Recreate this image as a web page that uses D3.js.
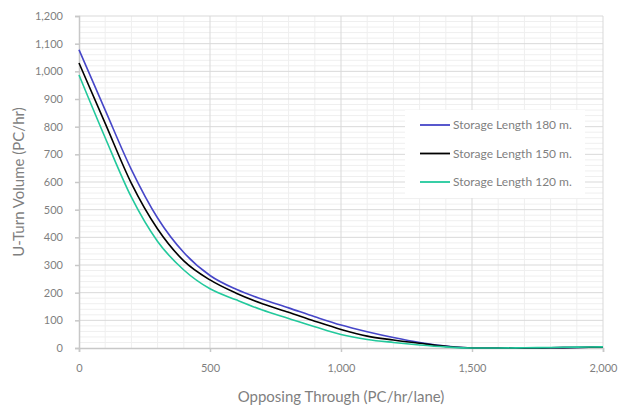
<!DOCTYPE html>
<html>
<head>
<meta charset="utf-8">
<script src="https://cdn.jsdelivr.net/npm/d3@7"></script>
<style>
  html, body { margin: 0; padding: 0; background: #fff; }
  svg { display: block; font-family: Lato, "Noto Sans", sans-serif; }
</style>
</head>
<body>
<svg id="chart" width="622" height="405"></svg>
<script>
// Opposing through flow (PC/hr/lane)
const opposing = [0, 100, 200, 300, 400, 500, 600, 700, 800, 900, 1000,
                  1100, 1200, 1300, 1400, 1500, 1600, 1700, 1800, 1900, 2000];

// U-turn capacity (PC/hr) per storage length
const storage180 = [1078, 860, 645, 470, 345, 262, 212, 176, 145, 113, 83,
                    59, 38, 20, 7, 0, 0, 0, 1, 2, 3];
const storage150 = [1030, 812, 595, 430, 315, 246, 198, 160, 129, 97, 67,
                    43, 29, 17, 6, 0, 0, 0, 1, 2, 3];
const storage120 = [987, 760, 545, 385, 282, 214, 174, 137, 107, 77, 49,
                    31, 20, 11, 4, 0, 0, 1, 2, 3, 4];

const seriesNames = ["Storage Length 180 m.", "Storage Length 150 m.", "Storage Length 120 m."];
const seriesColors = ["#4646c8", "#000000", "#22c99c"];
const seriesValues = [storage180, storage150, storage120];

const xTicks = [0, 500, 1000, 1500, 2000];
const yTicks = d3.range(0, 1201, 100);

const margin = { left: 79, right: 19, top: 16, bottom: 57 };
const W = 622, H = 405;
const svg = d3.select("#chart");

const x = d3.scaleLinear().domain([0, 2000]).range([margin.left, W - margin.right]);
const y = d3.scaleLinear().domain([0, 1200]).range([H - margin.bottom, margin.top]);

const grid = svg.append("g");
// minor horizontal grid every 20
grid.selectAll("line.hmin").data(d3.range(0, 1201, 20).filter(v => v % 100 !== 0))
  .join("line")
  .attr("x1", x(0)).attr("x2", x(2000))
  .attr("y1", d => y(d)).attr("y2", d => y(d))
  .attr("stroke", "#efefef").attr("stroke-width", 1);
// minor vertical grid every 100
grid.selectAll("line.vmin").data(d3.range(100, 2001, 100).filter(v => v % 500 !== 0))
  .join("line")
  .attr("x1", d => x(d)).attr("x2", d => x(d))
  .attr("y1", y(0)).attr("y2", y(1200))
  .attr("stroke", "#efefef").attr("stroke-width", 1);
// major horizontal grid every 100
grid.selectAll("line.hmaj").data(yTicks.filter(v => v > 0))
  .join("line")
  .attr("x1", x(0)).attr("x2", x(2000))
  .attr("y1", d => y(d)).attr("y2", d => y(d))
  .attr("stroke", "#d9d9d9").attr("stroke-width", 1);
// major vertical grid every 500
grid.selectAll("line.vmaj").data(xTicks.filter(v => v > 0))
  .join("line")
  .attr("x1", d => x(d)).attr("x2", d => x(d))
  .attr("y1", y(0)).attr("y2", y(1200))
  .attr("stroke", "#d9d9d9").attr("stroke-width", 1);

// axes
const fmt = d3.format(",");
const xAxis = svg.append("g")
  .attr("transform", `translate(0,${y(0)})`)
  .call(d3.axisBottom(x).tickValues(xTicks).tickFormat(fmt).tickSize(4).tickPadding(12));
const yAxis = svg.append("g")
  .attr("transform", `translate(${x(0)},0)`)
  .call(d3.axisLeft(y).tickValues(yTicks).tickFormat(fmt).tickSize(4).tickPadding(12));
[xAxis, yAxis].forEach(a => {
  a.select(".domain").attr("stroke", "#c8c8c8").attr("stroke-width", 1.5);
  a.selectAll(".tick line").attr("stroke", "#c8c8c8").attr("stroke-width", 1.5);
  a.selectAll(".tick text").attr("fill", "#7f7f7f")
    .style("font-size", "11px").style("font-family", "Lato, 'Noto Sans', sans-serif");
});

// curves
const line = d3.line()
  .x((d, i) => x(opposing[i]))
  .y(d => y(d))
  .curve(d3.curveMonotoneX);

svg.append("g").selectAll("path")
  .data(seriesValues)
  .join("path")
  .attr("d", d => line(d))
  .attr("fill", "none")
  .attr("stroke", (d, i) => seriesColors[i])
  .attr("stroke-width", 1.6);

// axis titles
svg.append("text")
  .attr("x", (x(0) + x(2000)) / 2).attr("y", 402)
  .attr("text-anchor", "middle")
  .attr("fill", "#7f7f7f").style("font-size", "15px")
  .text("Opposing Through (PC/hr/lane)");
svg.append("text")
  .attr("transform", `translate(24,${(y(0) + y(1200)) / 2}) rotate(-90)`)
  .attr("text-anchor", "middle")
  .attr("fill", "#7f7f7f").style("font-size", "15px")
  .text("U-Turn Volume (PC/hr)");

// legend
const legend = svg.append("g").attr("transform", "translate(405,110)");
legend.append("rect").attr("width", 180).attr("height", 88).attr("fill", "#fff");
const item = legend.selectAll("g").data(seriesNames).join("g")
  .attr("transform", (d, i) => `translate(0,${15 + i * 28.5})`);
item.append("line").attr("x1", 15).attr("x2", 45)
  .attr("stroke", (d, i) => seriesColors[i]).attr("stroke-width", 1.8);
item.append("text").attr("x", 48).attr("dy", "0.35em")
  .attr("fill", "#7f7f7f").style("font-size", "12px")
  .text(d => d);
</script>
</body>
</html>
